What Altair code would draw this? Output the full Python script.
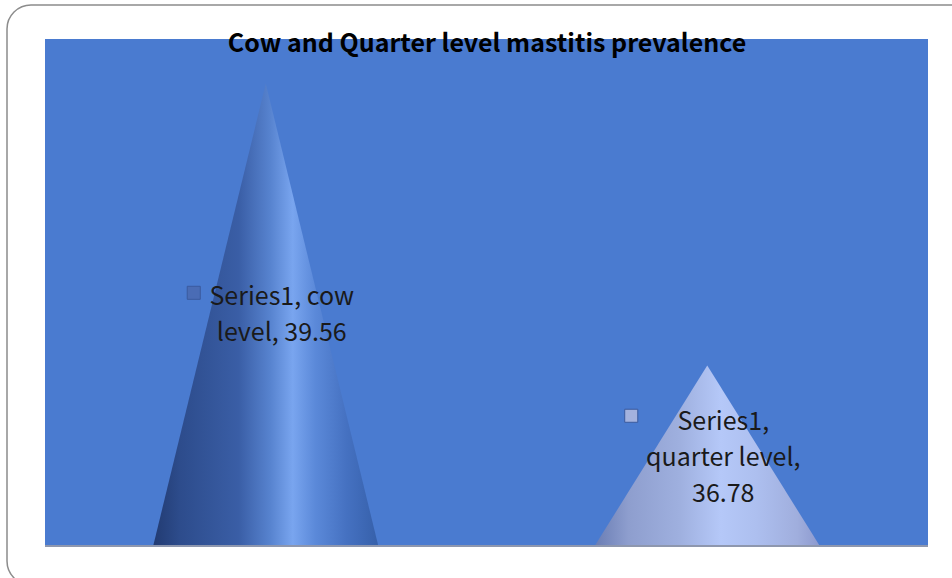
import altair as alt
import pandas as pd

# ---- data ----
categories = ["cow level", "quarter level"]
values = [39.56, 36.78]
series_name = "Series1"
label_lines = [["Series1, cow", "level, 39.56"],
               ["Series1,", "quarter level,", "36.78"]]
axis_min = 35.0
axis_max = 40.0
title_text = "Cow  and Quarter level mastitis prevalence"

# ---- derived tables ----
HALF_W = 0.255  # cone half base width, in category-band units

cone_rows = []
for i, (c, v) in enumerate(zip(categories, values)):
    ctr = i + 0.5
    cone_rows += [
        {"cat": c, "x": ctr - HALF_W, "y": axis_min},
        {"cat": c, "x": ctr, "y": v},
        {"cat": c, "x": ctr + HALF_W, "y": axis_min},
    ]
cones = pd.DataFrame(cone_rows)

labels = pd.DataFrame({
    "cat": categories,
    "x": [i + 0.5 for i in range(len(categories))],
    "ymid": [(v + axis_min) / 2 for v in values],
    "value": values,
    "series": [series_name] * len(categories),
    "text": label_lines,
})

W, H = 883, 507
xs = alt.Scale(domain=[0, len(categories)], nice=False, zero=False)
ys = alt.Scale(domain=[axis_min, axis_max], nice=False, zero=False)

grad1 = alt.LinearGradient(
    gradient="linear", x1=0, x2=1, y1=0, y2=0,
    stops=[
        alt.GradientStop(offset=0.0, color="#223B72"),
        alt.GradientStop(offset=0.12, color="#2D4C8C"),
        alt.GradientStop(offset=0.38, color="#3A5EA6"),
        alt.GradientStop(offset=0.52, color="#5783CF"),
        alt.GradientStop(offset=0.62, color="#79A5EF"),
        alt.GradientStop(offset=0.72, color="#5B89D9"),
        alt.GradientStop(offset=0.86, color="#4571C1"),
        alt.GradientStop(offset=1.0, color="#3660AA"),
    ],
)
grad2 = alt.LinearGradient(
    gradient="linear", x1=0, x2=1, y1=0, y2=0,
    stops=[
        alt.GradientStop(offset=0.0, color="#6A7DB4"),
        alt.GradientStop(offset=0.15, color="#8E9ECE"),
        alt.GradientStop(offset=0.38, color="#9FB0DF"),
        alt.GradientStop(offset=0.56, color="#B5C8F8"),
        alt.GradientStop(offset=0.72, color="#ADBFEF"),
        alt.GradientStop(offset=0.9, color="#A0AEDD"),
        alt.GradientStop(offset=1.0, color="#8C99CE"),
    ],
)

X = alt.X("x:Q", scale=xs, axis=None)

cone1 = alt.Chart(cones).transform_filter(
    alt.datum.cat == categories[0]
).mark_area(color=grad1).encode(
    x=X, y=alt.Y("y:Q", scale=ys, axis=None), y2=alt.datum(axis_min)
)

cone2 = alt.Chart(cones).transform_filter(
    alt.datum.cat == categories[1]
).mark_area(color=grad2).encode(
    x=X, y=alt.Y("y:Q", scale=ys, axis=None), y2=alt.datum(axis_min)
)

floor = alt.Chart(pd.DataFrame({"b": [axis_min]})).mark_rule(
    color="#8E97AE", strokeWidth=2
).encode(y=alt.Y("b:Q", scale=ys, axis=None))

Ymid = alt.Y("ymid:Q", scale=ys, axis=None)


def label_layer(idx, dy):
    return alt.Chart(labels).transform_filter(
        alt.datum.cat == categories[idx]
    ).mark_text(
        font="Noto Sans CJK SC", fontSize=25, color="#1A1A1A",
        align="center", baseline="middle", lineHeight=36, dx=16, dy=dy,
    ).encode(x=X, y=Ymid, text="text")


def key_layer(idx, fill, xo, yo):
    return alt.Chart(labels).transform_filter(
        alt.datum.cat == categories[idx]
    ).mark_square(
        size=170, filled=True, fill=fill, stroke="#3B5A9E", strokeWidth=1,
        opacity=1, xOffset=xo, yOffset=yo,
    ).encode(x=X, y=Ymid)


text1 = label_layer(0, -18)
text2 = label_layer(1, -34)
key1 = key_layer(0, "#4A6CB5", -72, -22)
key2 = key_layer(1, "#A4B2DE", -76, -40)

one = pd.DataFrame({"t": [title_text]})

frame = alt.Chart(one).mark_rect(
    fillOpacity=0, stroke="#8C8C8C", strokeWidth=1.5, cornerRadius=24,
).encode(
    x=alt.value(-38), x2=alt.value(930),
    y=alt.value(-34), y2=alt.value(546),
)

title = alt.Chart(one).mark_text(
    font="Noto Sans CJK SC", fontSize=25, fontWeight="bold", color="#000000",
    align="center", baseline="alphabetic",
).encode(x=alt.value(W / 2 + 0.5), y=alt.value(13), text="t:N")

chart = alt.layer(
    frame, cone1, cone2, floor, key1, key2, text1, text2, title
).properties(
    width=W, height=H,
    autosize=alt.AutoSizeParams(type="none"),
    padding={"left": 45, "top": 39, "right": 24, "bottom": 32},
    background="#FFFFFF",
).configure_view(
    fill="#4A7BD0", strokeWidth=0,
)

chart.save("out.html", embed_options={"renderer": "svg", "actions": False})
